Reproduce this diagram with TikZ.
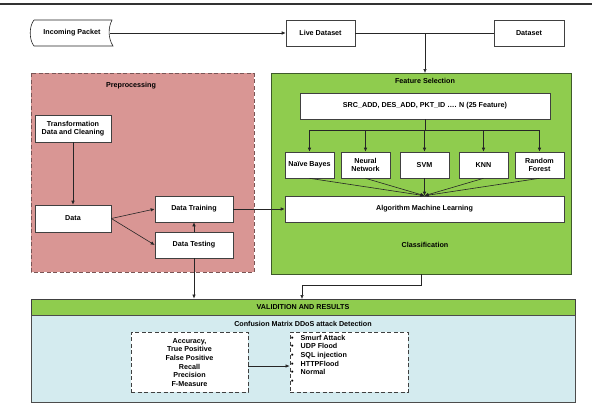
\documentclass[tikz,border=0pt]{standalone}
\usepackage{fontspec}
\setmainfont{Liberation Sans}
\usetikzlibrary{arrows.meta,calc}
\definecolor{salmon}{HTML}{D99694}
\definecolor{salmonedge}{HTML}{7A5555}
\definecolor{leaf}{HTML}{8FCC4E}
\definecolor{leafedge}{HTML}{3E5A2A}
\definecolor{sky}{HTML}{D4EBEF}
\begin{document}
\begin{tikzpicture}[x=1bp,y=-1bp,
  txt/.style={font=\fontsize{7.2}{8.6}\selectfont\bfseries, text=black},
  box/.style={txt, draw=black!75, fill=white, line width=0.6bp, align=center, inner sep=1bp},
  lbl/.style={txt, inner sep=0},
  conn/.style={draw=black!85, line width=0.6bp},
  arr/.style={conn, -{Latex[length=4bp,width=3.5bp]}},
  dbox/.style={txt, draw=black!75, fill=white, line width=0.8bp, dash pattern=on 4bp off 2.5bp, inner sep=0}
]
\useasboundingbox (0,0) rectangle (592,408);
\draw[line width=1.6bp, black!80] (0,4) -- (592,4);

% top row
\draw[conn, fill=white] (34,20) -- (112,20) .. controls (108,28) and (108,38) .. (113,46) -- (34,46) .. controls (29,40) and (29,26) .. (34,20);
\node[lbl] (inc) at (72,33) {Incoming Packet};
\coordinate (incE) at (110,33);
\node[box, minimum width=69bp, minimum height=26bp] (live) at (320.5,33) {Live Dataset};
\node[box, minimum width=70bp, minimum height=26bp] (ds) at (529,33) {Dataset};

% containers
\draw[fill=salmon, draw=salmonedge, line width=1bp, dash pattern=on 4bp off 2.5bp] (31,73) rectangle (254,272);
\node[lbl] (pretitle) at (131,86) {Preprocessing};
\draw[fill=leaf, draw=leafedge, line width=1bp] (271,73) rectangle (571,274);
\coordinate (featN) at (425,73);
\coordinate (featS) at (421,274);
\node[lbl] (feattitle) at (425,81) {Feature Selection};
\node[lbl] (classtitle) at (425,245) {Classification};

% preprocessing nodes
\node[box, minimum width=76bp, minimum height=27bp] (trans) at (73,128.5) {Transformation\\Data and Cleaning};
\node[box, minimum width=76bp, minimum height=27bp] (data) at (73,218.5) {Data};
\node[box, minimum width=78bp, minimum height=26bp] (train) at (194,209) {Data Training};
\node[box, minimum width=78bp, minimum height=26bp] (test) at (194,245) {Data Testing};

% feature nodes
\node[box, minimum width=250bp, minimum height=26bp] (src) at (425,106) {SRC\_ADD, DES\_ADD, PKT\_ID …. N (25 Feature)};
\node[box, minimum width=49bp, minimum height=26bp, inner sep=0] (nb) at (309.5,165) {Naïve Bayes};
\node[box, minimum width=49bp, minimum height=26bp] (nn) at (365.5,165) {Neural\\Network};
\node[box, minimum width=49bp, minimum height=26bp] (svm) at (424.5,165) {SVM};
\node[box, minimum width=49bp, minimum height=26bp] (knn) at (483.5,165) {KNN};
\node[box, minimum width=49bp, minimum height=26bp] (rf) at (539.5,165) {Random\\Forest};
\node[box, minimum width=279bp, minimum height=26bp] (aml) at (424.5,209) {Algorithm Machine Learning};

% validation
\node[txt, draw=black!75, fill=leaf, line width=0.8bp, minimum width=544bp, minimum height=16bp, inner sep=0] (valid) at (303,307) {VALIDITION AND RESULTS};
\draw[fill=sky, draw=black!70, line width=0.8bp] (31,315) rectangle (575,402);
\node[lbl] (cmtitle) at (303,324) {Confusion Matrix DDoS attack Detection};
\node[dbox, minimum width=117bp, minimum height=60bp] (lbox) at (189.5,362) {};
\node[lbl, align=center, font=\fontsize{7.2}{8.7}\selectfont\bfseries] (ltext) at (189.5,362.5) {Accuracy,\\True Positive\\False Positive\\Recall\\Precision\\F-Measure};
\node[dbox, minimum width=118bp, minimum height=60bp] (rbox) at (349,362) {};
\node[lbl, anchor=north west, font=\fontsize{7.2}{8.7}\selectfont\bfseries] (rtext) at (291,334) {%
\begin{tabular}{@{}l@{\hspace{7bp}}l@{}}
\textbullet & Smurf Attack\\
\textbullet & UDP Flood\\
\textbullet & SQL injection\\
\textbullet & HTTPFlood\\
\textbullet & Normal\\
\textbullet & \strut\\
\end{tabular}};

% connectors
\draw[arr] (incE) -- (live.west);
\draw[conn] (live.east) -- (ds.west);
\coordinate (jn) at (425,33);
\draw[arr] (jn) -- (featN);
\draw[arr] (trans.south) -- (data.north);
\draw[arr] (data.east) -- (train.west);
\draw[arr] (data.east) -- (test.west);
\draw[arr] (test.north) -- (train.south);
\draw[arr] (train.east) -- (aml.west);
\draw[arr] (test.south) -- (test.south |- valid.north);
\coordinate (bend) at (421,285);
\draw[arr] (featS) -- (bend) -- (302,285) -- (302,299);
\coordinate (br) at (425,130);
\draw[conn] (src.south) -- (br);
\draw[conn] (nb.north |- br) -- (rf.north |- br);
\foreach \n in {nb,nn,svm,knn,rf} {
  \draw[arr] (\n.north |- br) -- (\n.north);
  \draw[arr] (\n.south) -- (aml.north);
}
\draw[arr] ([yshift=-4bp]lbox.east) -- ([yshift=-4bp]rbox.west);
\end{tikzpicture}
\end{document}
